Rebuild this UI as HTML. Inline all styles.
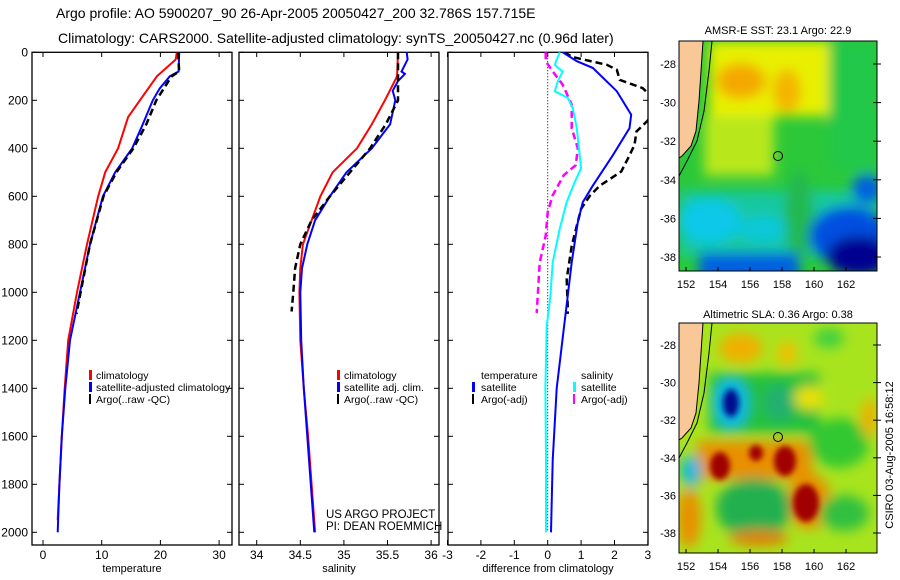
<!DOCTYPE html>
<html><head><meta charset="utf-8">
<style>
html,body{margin:0;padding:0;background:#fff;}
svg{display:block;font-family:"Liberation Sans",sans-serif;}
</style></head>
<body>
<svg id="fig" width="900" height="580" viewBox="0 0 900 580" xmlns="http://www.w3.org/2000/svg">
<defs>
<filter id="blur" x="-20%" y="-20%" width="140%" height="140%"><feGaussianBlur stdDeviation="6"/></filter>
<filter id="blur2" x="-20%" y="-20%" width="140%" height="140%"><feGaussianBlur stdDeviation="3"/></filter>
<clipPath id="mapclip"><rect x="0" y="0" width="198" height="230"/></clipPath>
<clipPath id="c1"><rect x="32" y="52" width="200" height="493"/></clipPath>
<clipPath id="c2"><rect x="239" y="52" width="200" height="493"/></clipPath>
<clipPath id="c3"><rect x="448" y="52" width="200" height="493"/></clipPath>
</defs>
<text x="56" y="18" font-size="14">Argo profile: AO 5900207_90 26-Apr-2005 20050427_200 32.786S 157.715E</text>
<text x="58" y="43" font-size="14">Climatology: CARS2000. Satellite-adjusted climatology: synTS_20050427.nc (0.96d later)</text>
<g id="axes"></g>
<g id="plots"></g>
<g id="legends" font-size="10.5">
 <g>
  <rect x="89" y="370" width="3" height="10" fill="#f00"/><text x="96" y="379">climatology</text>
  <rect x="89" y="382" width="3" height="10" fill="#00f"/><text x="96" y="391">satellite-adjusted climatology</text>
  <rect x="89" y="394" width="2" height="10" fill="#000"/><text x="96" y="403">Argo(..raw -QC)</text>
 </g>
 <g>
  <rect x="337" y="370" width="3" height="10" fill="#f00"/><text x="344" y="379">climatology</text>
  <rect x="337" y="382" width="3" height="10" fill="#00f"/><text x="344" y="391">satellite adj. clim.</text>
  <rect x="337" y="394" width="2" height="10" fill="#000"/><text x="344" y="403">Argo(..raw -QC)</text>
 </g>
 <text x="326" y="518" font-size="11.5">US ARGO PROJECT</text>
 <text x="326" y="530" font-size="11.5">PI: DEAN ROEMMICH</text>
 <g>
  <text x="481" y="379">temperature</text>
  <rect x="472" y="382" width="3" height="10" fill="#00f"/><text x="481" y="391">satellite</text>
  <rect x="472" y="394" width="2" height="10" fill="#000"/><text x="481" y="403">Argo(-adj)</text>
  <text x="581" y="379">salinity</text>
  <rect x="573" y="382" width="3" height="10" fill="#0ff"/><text x="581" y="391">satellite</text>
  <rect x="573" y="394" width="2" height="10" fill="#f0f"/><text x="581" y="403">Argo(-adj)</text>
 </g>
</g>

<!-- SST map -->
<text x="778" y="34" font-size="11" text-anchor="middle">AMSR-E SST: 23.1 Argo: 22.9</text>
<g transform="translate(679,41)">
 <g clip-path="url(#mapclip)">
  <rect width="198" height="230" fill="#2cc83a"/>
  <g filter="url(#blur)">
   <rect x="30" y="0" width="120" height="75" fill="#e8f000"/>
   <rect x="25" y="75" width="70" height="60" fill="#b8e81a"/>
   <ellipse cx="62" cy="40" rx="25" ry="18" fill="#f4a800"/>
   <ellipse cx="108" cy="50" rx="14" ry="22" fill="#f4b400"/>
   <rect x="150" y="0" width="48" height="130" fill="#22c84a"/>
   <rect x="0" y="150" width="198" height="65" fill="#18c8a0"/>
   <ellipse cx="30" cy="180" rx="32" ry="22" fill="#10c8e8"/>
   <ellipse cx="85" cy="188" rx="25" ry="13" fill="#10c8d8"/>
   <ellipse cx="120" cy="175" rx="14" ry="45" fill="#20b850"/>
   <rect x="20" y="212" width="100" height="30" fill="#0060e0"/>
   <ellipse cx="170" cy="195" rx="40" ry="30" fill="#0050e0"/>
   <ellipse cx="180" cy="215" rx="32" ry="20" fill="#000090"/>
   <ellipse cx="188" cy="148" rx="15" ry="15" fill="#0060e0"/>
  </g>
  <polygon points="0,0 24,0 22,30 20,60 17,90 12,105 3,115 0,117" fill="#f9c898"/>
  <polyline points="33,0 30,30 25,70 18,100 8,120 0,135" fill="none" stroke="#000" stroke-width="1"/>
  <polyline points="24,0 22,30 20,60 17,90 12,105 3,115 0,117" fill="none" stroke="#000" stroke-width="1"/>
  <circle cx="99" cy="115" r="4.5" fill="none" stroke="#000" stroke-width="1"/>
 </g>
 <rect width="198" height="230" fill="none" stroke="#000"/>
</g>
<!-- SLA map -->
<text x="778" y="318" font-size="11" text-anchor="middle">Altimetric SLA: 0.36 Argo: 0.38</text>
<g transform="translate(679,323)">
 <g clip-path="url(#mapclip)">
  <rect width="198" height="230" fill="#a8e41e"/>
  <g filter="url(#blur)">
   <ellipse cx="62" cy="25" rx="22" ry="15" fill="#f0b000"/>
   <ellipse cx="108" cy="30" rx="10" ry="12" fill="#f0c000"/>
   <ellipse cx="150" cy="15" rx="15" ry="10" fill="#40d040"/>
   <rect x="30" y="50" width="110" height="60" fill="#20c040"/>
   <ellipse cx="52" cy="80" rx="18" ry="26" fill="#10b8e0"/>
   <ellipse cx="100" cy="80" rx="15" ry="18" fill="#20b070"/>
   <rect x="18" y="118" width="115" height="38" fill="#e89000"/>
   <ellipse cx="130" cy="178" rx="22" ry="28" fill="#e89000"/>
   <ellipse cx="75" cy="185" rx="38" ry="30" fill="#20b050"/>
   <ellipse cx="10" cy="195" rx="12" ry="30" fill="#e89000"/>
   <ellipse cx="160" cy="120" rx="30" ry="25" fill="#30c830"/>
   <ellipse cx="165" cy="190" rx="25" ry="18" fill="#30c040"/>
   <ellipse cx="190" cy="95" rx="8" ry="20" fill="#f0b000"/>
   <ellipse cx="130" cy="75" rx="15" ry="12" fill="#e8e000"/>
   <ellipse cx="12" cy="148" rx="10" ry="16" fill="#10b8e0"/>
   <ellipse cx="80" cy="215" rx="30" ry="8" fill="#e08000"/>
  </g>
  <g filter="url(#blur2)">
   <ellipse cx="52" cy="80" rx="8" ry="14" fill="#001090"/>
   <ellipse cx="41" cy="143" rx="10" ry="14" fill="#a00000"/>
   <ellipse cx="77" cy="130" rx="7" ry="8" fill="#a00000"/>
   <ellipse cx="106" cy="138" rx="11" ry="15" fill="#a00000"/>
   <ellipse cx="127" cy="180" rx="13" ry="19" fill="#a00000"/>
  </g>
  <polygon points="0,0 24,0 22,30 20,60 17,90 12,105 3,115 0,117" fill="#f9c898"/>
  <polyline points="33,0 30,30 25,70 18,100 8,120 0,135" fill="none" stroke="#000" stroke-width="1"/>
  <polyline points="24,0 22,30 20,60 17,90 12,105 3,115 0,117" fill="none" stroke="#000" stroke-width="1"/>
  <circle cx="99" cy="114" r="4.5" fill="none" stroke="#000" stroke-width="1"/>
 </g>
 <rect width="198" height="230" fill="none" stroke="#000"/>
</g>
<g id="mapticks" font-size="11"></g>
<text transform="translate(893,455) rotate(-90)" font-size="11" text-anchor="middle">CSIRO 03-Aug-2005 16:58:12</text>
</svg>
<script>
// ---- data ----
const depthTicks = [0,200,400,600,800,1000,1200,1400,1600,1800,2000];
const tempTicks = [0,10,20,30];
const salTicks = [34,34.5,35,35.5,36];
const salTickLabels = ["34","34.5","35","35.5","36"];
const diffTicks = [-3,-2,-1,0,1,2,3];

const tempClimDepth = [0,30,100,200,270,400,500,600,800,1000,1200,1400,1600,1800,1950];
const tempClim = [22.8,22.6,19.4,16.5,14.5,12.8,10.6,9.4,7.5,5.8,4.3,3.7,3.2,2.8,2.5];
const tempSatDepth = [0,80,100,150,200,300,400,500,600,800,1000,1200,1400,1600,1800,2000];
const tempSat = [23.2,23.1,21.6,19.9,18.7,17.0,15.2,12.3,10.2,8.0,6.3,4.6,3.8,3.2,2.8,2.5];
const tempArgoDepth = [0,80,100,200,300,400,500,600,800,1000,1090];
const tempArgo = [23.0,23.2,21.9,19.3,17.6,15.4,12.5,10.3,8.0,6.4,5.7];

const salClimDepth = [0,100,200,300,400,500,600,700,800,900,1000,1200,1400,1600,1800,2000];
const salClim = [35.62,35.61,35.47,35.32,35.15,34.87,34.73,34.63,34.53,34.50,34.49,34.50,34.54,34.59,34.63,34.67];
const salSatDepth = [0,30,80,90,120,160,200,300,400,500,600,700,800,900,1000,1200,1400,1600,1800,2000];
const salSat = [35.72,35.73,35.66,35.70,35.62,35.56,35.59,35.53,35.32,35.03,34.84,34.67,34.58,34.52,34.50,34.51,34.54,34.58,34.62,34.66];
const salArgoDepth = [0,100,200,300,400,500,600,700,800,900,1000,1080];
const salArgo = [35.62,35.62,35.62,35.48,35.30,35.07,34.84,34.63,34.50,34.44,34.42,34.40];

const dTempSatDepth = [0,37,65,162,260,316,429,556,624,708,876,1016,1155,1400,1700,2000];
const dTempSat = [0.45,0.87,1.35,2.07,2.5,2.45,1.95,1.35,1.05,0.9,0.72,0.6,0.48,0.27,0.15,0.1];
const dTempArgoDepth = [0,20,52,73,115,149,170,200,250,288,330,386,443,497,556,598,652,807,945,1058,1090];
const dTempArgo = [0.5,0.75,1.77,2.07,2.16,2.84,3.0,3.3,3.2,2.97,2.66,2.6,2.4,2.2,1.56,1.26,1.0,0.72,0.57,0.6,0.6];
const dSalSatDepth = [0,52,80,122,162,190,232,316,483,540,624,736,876,1016,1140,1400,1700,2000];
const dSalSat = [0.36,0.21,0.45,0.3,0.21,0.6,0.75,0.87,1.0,0.81,0.57,0.36,0.15,0.08,-0.03,-0.07,-0.05,-0.05];
const dSalArgoDepth = [0,37,80,135,218,316,400,470,512,596,666,764,876,1016,1086];
const dSalArgo = [-0.06,-0.06,0.15,0.45,0.72,0.72,0.9,0.84,0.48,0.15,0.0,-0.06,-0.24,-0.3,-0.33];

const lonTicks = [152,154,156,158,160,162];
const latTicks = [-28,-30,-32,-34,-36,-38];

// ---- scales ----
const yD = d => 52.3 + d*0.24;
const xT = v => 43 + v*5.87;
const xS = v => 256.7 + (v-34)*87.2;
const xDf = v => 547.7 + v*33.4;
const NS = "http://www.w3.org/2000/svg";
function mk(tag, attrs, parent){ const e=document.createElementNS(NS,tag); for(const k in attrs) e.setAttribute(k,attrs[k]); parent.appendChild(e); return e; }
const axes = document.getElementById('axes');
const plots = document.getElementById('plots');

const panels = [
 {x0:32,x1:232,ticks:tempTicks,labels:tempTicks.map(String),sx:xT,title:"temperature",name:"temperature-panel"},
 {x0:239,x1:439,ticks:salTicks,labels:salTickLabels,sx:xS,title:"salinity",name:"salinity-panel"},
 {x0:448,x1:648,ticks:diffTicks,labels:diffTicks.map(String),sx:xDf,title:"difference from climatology",name:"difference-panel"}
];
panels.forEach((p,i)=>{
  const g = mk('g',{},axes);
  
  
  mk('rect',{x:p.x0,y:52.3,width:p.x1-p.x0,height:545-52.3,fill:'none',stroke:'#000','stroke-width':1.3},g);
  p.ticks.forEach((t,j)=>{
    const x=p.sx(t);
    mk('line',{x1:x,x2:x,y1:545,y2:540,stroke:'#000'},g);
    mk('line',{x1:x,x2:x,y1:52.3,y2:57,stroke:'#000'},g);
    const tx = mk('text',{x:x,y:559,'font-size':12,'text-anchor':'middle'},g);
    tx.textContent = p.labels[j];
    
    
  });
  depthTicks.forEach(d=>{
    const y=yD(d);
    mk('line',{x1:p.x0,x2:p.x0+5,y1:y,y2:y,stroke:'#000'},g);
    mk('line',{x1:p.x1,x2:p.x1-5,y1:y,y2:y,stroke:'#000'},g);
    if(i===0){
      const ty = mk('text',{x:28,y:y+4,'font-size':12,'text-anchor':'end'},g);
      ty.textContent = String(d);
      
      
    }
  });
  const at = mk('text',{x:(p.x0+p.x1)/2,y:572,'font-size':11,'text-anchor':'middle'},g);
  at.textContent = p.title;
  
  
});
const zl = mk('line',{x1:xDf(0),x2:xDf(0),y1:52.3,y2:yD(2000),stroke:'#000','stroke-dasharray':'1,2'},axes);



function series(depths, vals, sx, color, dashed, clip, name){
  const pts = depths.map((d,i)=> sx(vals[i]).toFixed(1)+','+yD(d).toFixed(1)).join(' ');
  const attrs = {points:pts,fill:'none',stroke:color,'stroke-width':dashed?2.5:2,'clip-path':'url(#'+clip+')'};
  if(dashed) attrs['stroke-dasharray']='7,4';
  const el = mk('polyline',attrs,plots);
  
  
}
series(tempClimDepth,tempClim,xT,'#f00',false,'c1','temperature-climatology-line');
series(tempSatDepth,tempSat,xT,'#00f',false,'c1','temperature-satellite-line');
series(tempArgoDepth,tempArgo,xT,'#000',true,'c1','temperature-argo-line');
series(salClimDepth,salClim,xS,'#f00',false,'c2','salinity-climatology-line');
series(salSatDepth,salSat,xS,'#00f',false,'c2','salinity-satellite-line');
series(salArgoDepth,salArgo,xS,'#000',true,'c2','salinity-argo-line');
series(dSalArgoDepth,dSalArgo,xDf,'#f0f',true,'c3','salinity-argo-diff-line');
series(dSalSatDepth,dSalSat,xDf,'#0ff',false,'c3','salinity-satellite-diff-line');
series(dTempArgoDepth,dTempArgo,xDf,'#000',true,'c3','temperature-argo-diff-line');
series(dTempSatDepth,dTempSat,xDf,'#00f',false,'c3','temperature-satellite-diff-line');

const mt = document.getElementById('mapticks');
const lonX = lon => 679 + (lon-151.56)*16;
[{top:41,latY:lat=>64+(-28-lat)*19.3},{top:323,latY:lat=>345+(-28-lat)*18.8}].forEach((m,k)=>{
  lonTicks.forEach(l=>{
    const x=lonX(l);
    mk('line',{x1:x,x2:x,y1:m.top+230,y2:m.top+226,stroke:'#000'},mt);
    const t=mk('text',{x:x,y:m.top+247,'text-anchor':'middle'},mt);
    t.textContent=String(l);
    
    
  });
  latTicks.forEach(l=>{
    const y=m.latY(l);
    mk('line',{x1:877,x2:873,y1:y,y2:y,stroke:'#000'},mt);
    mk('line',{x1:877,x2:881,y1:y,y2:y,stroke:'#000'},mt);
    const t=mk('text',{x:676,y:y+4,'text-anchor':'end'},mt);
    t.textContent=String(l);
    
    
  });
});
</script>
</body></html>
